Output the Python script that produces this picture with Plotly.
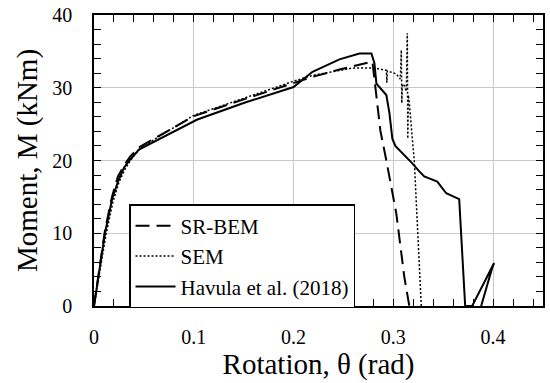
import plotly.graph_objects as go

# Havula et al. (2018) experimental curve
hav_x = [0, 0.005, 0.011, 0.018, 0.024, 0.030, 0.036, 0.045, 0.063, 0.103, 0.15, 0.2, 0.219, 0.246,
         0.266, 0.278, 0.281, 0.283, 0.286, 0.293, 0.296, 0.299, 0.302, 0.308, 0.319, 0.326, 0.331, 0.344,
         0.353, 0.366, 0.372, 0.379, 0.401, 0.399, 0.388]
hav_y = [0, 4.5, 10.0, 14.6, 17.1, 19.0, 20.1, 21.5, 22.8, 25.6, 27.9, 30.1, 32.2, 33.9,
         34.7, 34.7, 33.4, 30.6, 30.1, 29.0, 26.6, 23.0, 22.0, 21.2, 19.6, 18.5, 17.8, 17.1,
         15.5, 14.7, 0, 0, 5.9, 5.2, 0]

# SR-BEM
sr_x = [0, 0.005, 0.011, 0.018, 0.024, 0.030, 0.036, 0.045, 0.063, 0.1, 0.15, 0.2, 0.219, 0.246,
        0.279, 0.282, 0.287, 0.293, 0.303, 0.311, 0.316]
sr_y = [0, 4.7, 10.4, 15.0, 17.8, 19.3, 20.5, 21.8, 23.2, 26.1, 28.4, 30.6, 31.5, 32.5,
        33.6, 30.1, 24.1, 20.0, 12.7, 4.0, 0]

# SEM
sem_x = [0, 0.005, 0.012, 0.019, 0.025, 0.031, 0.037, 0.046, 0.064, 0.1, 0.15, 0.2, 0.219, 0.259,
         0.281, 0.293, 0.2935, 0.294, 0.303, 0.307, 0.308, 0.3085, 0.309, 0.311, 0.313,
         0.314, 0.3145, 0.315, 0.316, 0.317, 0.319, 0.321, 0.324, 0.326, 0.328]
sem_y = [0, 4.2, 9.8, 14.3, 17.0, 18.8, 20.1, 21.6, 23.2, 26.2, 28.6, 30.9, 31.7, 32.7,
         32.7, 32.4, 30.7, 32.3, 31.9, 31.2, 35.2, 27.9, 30.5, 30.3, 29.5,
         37.5, 23.0, 29.0, 28.0, 26.0, 23.0, 20.0, 12.0, 5.0, 0]

FONT = "Liberation Serif, Times New Roman, serif"

fig = go.Figure()
fig.add_trace(go.Scatter(x=sr_x, y=sr_y, mode="lines", name="SR-BEM",
                         line=dict(color="black", width=2, dash="14px,7px")))
fig.add_trace(go.Scatter(x=sem_x, y=sem_y, mode="lines", name="SEM",
                         line=dict(color="black", width=1.5, dash="2px,2px")))
fig.add_trace(go.Scatter(x=hav_x, y=hav_y, mode="lines", name="Havula et al. (2018)",
                         line=dict(color="black", width=2)))

axis_common = dict(
    showline=True, linecolor="black", linewidth=1.5, mirror="ticks",
    ticks="inside", ticklen=7, tickcolor="black",
    showgrid=True, gridcolor="#c8c8c8", gridwidth=1, zeroline=False,
    automargin=False, ticklabeloverflow="allow",
    tickfont=dict(family=FONT, size=20, color="black"),
)

fig.update_xaxes(range=[0, 0.45],
                 tickvals=[0, 0.1, 0.2, 0.3, 0.4], ticktext=["0", "0.1", "0.2", "0.3", "0.4"],
                 ticklabelstandoff=12,
                 minor=dict(dtick=0.02, tick0=0, ticks="inside", ticklen=7, tickcolor="black", showgrid=False),
                 title=dict(text="Rotation, θ (rad)", font=dict(family=FONT, size=29, color="black"), standoff=4),
                 **axis_common)
fig.update_yaxes(range=[0, 40], dtick=10, tick0=0,
                 ticklabelstandoff=16,
                 minor=dict(dtick=2, tick0=0, ticks="inside", ticklen=7, tickcolor="black", showgrid=False),
                 title=dict(text="Moment, M (kNm)", font=dict(family=FONT, size=29, color="black"), standoff=6),
                 **axis_common)

fig.update_layout(
    width=550, height=383,
    margin=dict(l=94, r=7, t=15, b=77),
    plot_bgcolor="white", paper_bgcolor="white",
    font=dict(family=FONT, color="black"),
    legend=dict(x=0.078, y=0.35, xanchor="left", yanchor="top",
                bgcolor="white", bordercolor="black", borderwidth=1.5,
                font=dict(family=FONT, size=21, color="black"),
                tracegroupgap=0, itemwidth=40),
    showlegend=True,
)

fig.write_html("out.html", config={"displayModeBar": False},
               post_script="document.body.style.margin='0';")
